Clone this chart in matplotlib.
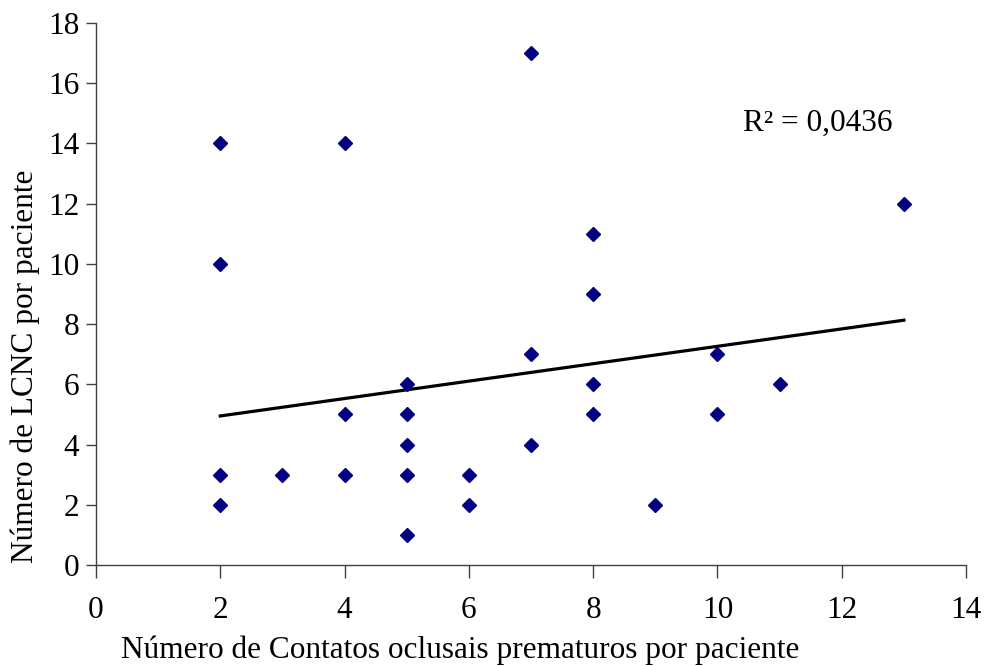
import matplotlib
matplotlib.use("Agg")
import matplotlib.pyplot as plt

# Data
contatos = [2, 2, 2, 2, 3, 4, 4, 4, 5, 5, 5, 5, 5, 6, 6, 7, 7, 7,
            8, 8, 8, 8, 9, 10, 10, 11, 13]
lcnc = [14, 10, 3, 2, 3, 14, 5, 3, 6, 5, 4, 3, 1, 3, 2, 17, 7, 4,
        11, 9, 6, 5, 2, 7, 5, 6, 12]
trend_x = [2, 13]
trend_y = [4.95, 8.13]
r2_text = "R² = 0,0436"
x_ticks = [0, 2, 4, 6, 8, 10, 12, 14]
y_ticks = [0, 2, 4, 6, 8, 10, 12, 14, 16, 18]

plt.rcParams['font.family'] = ['Liberation Serif', 'DejaVu Serif']
FS = 22.5

fig = plt.figure(figsize=(9.86, 6.66), dpi=100)
ax = fig.add_axes([96/986, 1-565/666, (966-96)/986, (565-23)/666])

ax.plot(trend_x, trend_y, color='black', lw=2.3, zorder=2)
ax.plot(contatos, lcnc, linestyle='none', marker='D', markersize=7,
        color='#000080', zorder=3)

ax.set_xlim(0, 14)
ax.set_ylim(0, 18)
ax.set_xticks(x_ticks)
ax.set_yticks(y_ticks)
ax.tick_params(axis='both', labelsize=FS, direction='out', color='#404040', width=1)
ax.tick_params(axis='x', length=9, pad=13)
ax.tick_params(axis='y', length=7, pad=5)
for s in ['top', 'right']:
    ax.spines[s].set_visible(False)
for s in ['left', 'bottom']:
    ax.spines[s].set_color('#404040')
    ax.spines[s].set_linewidth(1)

fig.text(460/986, 8/666, 'Número de Contatos oclusais prematuros por paciente',
         fontsize=FS, ha='center', va='baseline')
fig.text(25/986, 1-366/666, 'Número de LCNC por paciente',
         fontsize=FS, ha='center', va='center', rotation=90)

ax.text(10.41, 14.68, r2_text, fontsize=FS, ha='left', va='center')

fig.savefig('out.png', dpi=100)
